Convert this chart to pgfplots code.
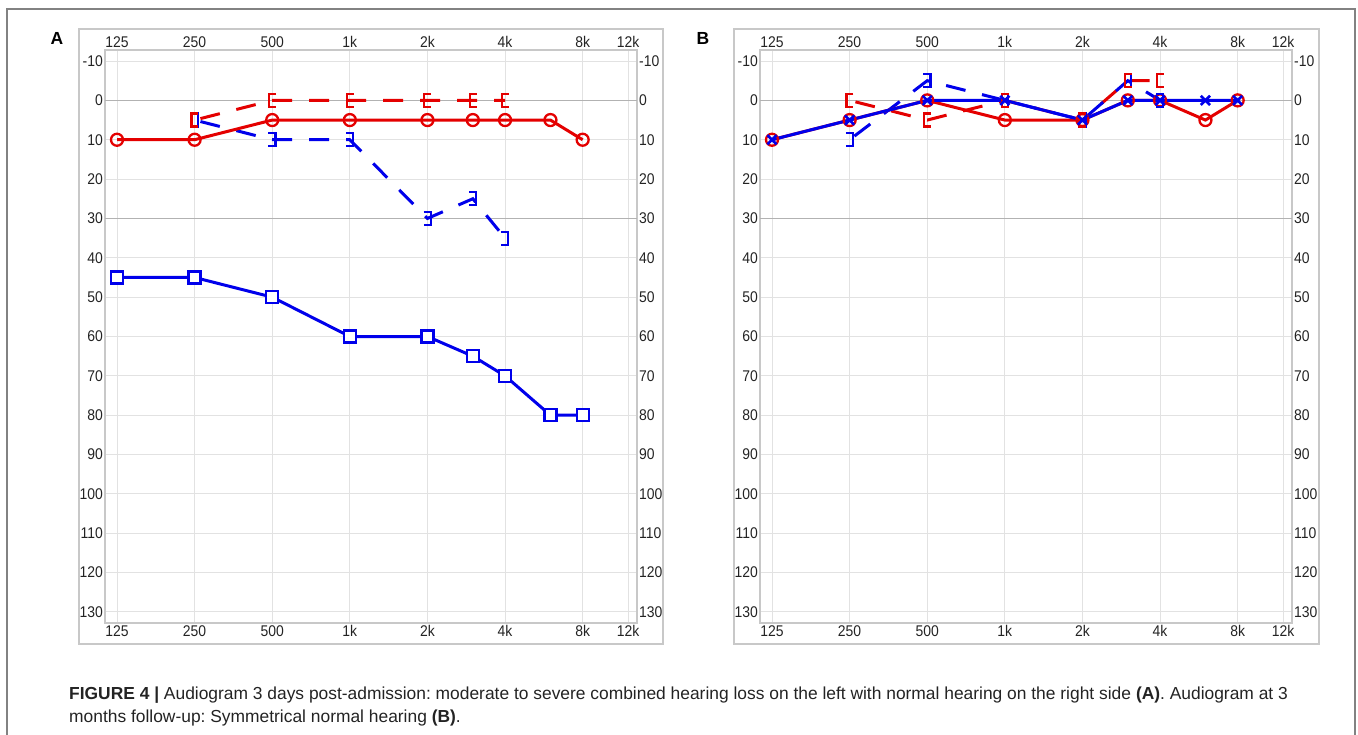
\documentclass[border=0pt]{standalone}
\usepackage{fontspec}
\setmainfont{Liberation Sans}
\newfontfamily\tickfont[FakeStretch=0.9]{Liberation Sans}
\usepackage{pgfplots}
\usepackage{pgfplotstable}
\pgfplotsset{compat=1.18}
\frenchspacing

\definecolor{audred}{RGB}{228,0,0}
\definecolor{audblue}{RGB}{0,0,235}
\definecolor{gridgray}{RGB}{226,226,226}
\definecolor{darkgrid}{RGB}{178,178,178}
\definecolor{boxgray}{RGB}{200,200,200}
\definecolor{framegray}{RGB}{130,130,130}
\definecolor{txtgray}{RGB}{35,35,35}

% bracket marks (bone conduction, masked)
\pgfdeclareplotmark{lbrack}{%
  \pgfpathmoveto{\pgfqpoint{3.8pt}{6.5pt}}%
  \pgfpathlineto{\pgfqpoint{-3.2pt}{6.5pt}}%
  \pgfpathlineto{\pgfqpoint{-3.2pt}{-6.5pt}}%
  \pgfpathlineto{\pgfqpoint{3.8pt}{-6.5pt}}%
  \pgfusepathqstroke}
\pgfdeclareplotmark{rbrack}{%
  \pgfpathmoveto{\pgfqpoint{-3.8pt}{6.5pt}}%
  \pgfpathlineto{\pgfqpoint{3.2pt}{6.5pt}}%
  \pgfpathlineto{\pgfqpoint{3.2pt}{-6.5pt}}%
  \pgfpathlineto{\pgfqpoint{-3.8pt}{-6.5pt}}%
  \pgfusepathqstroke}

% ---------- Panel A data ----------
\pgfplotstableread{
f    db
125  10
250  10
500  5
1000 5
2000 5
3000 5
4000 5
6000 5
8000 10
}\ARac
\pgfplotstableread{
f    db
125  45
250  45
500  50
1000 60
2000 60
3000 65
4000 70
6000 80
8000 80
}\ALac
\pgfplotstableread{
f    db
250  5
500  0
1000 0
2000 0
3000 0
4000 0
}\ARbc
\pgfplotstableread{
f    db
250  5
500  10
1000 10
2000 30
3000 25
4000 35
}\ALbc

% ---------- Panel B data ----------
\pgfplotstableread{
f    db
125  10
250  5
500  0
1000 5
2000 5
3000 0
4000 0
6000 5
8000 0
}\BRac
\pgfplotstableread{
f    db
125  10
250  5
500  0
1000 0
2000 5
3000 0
4000 0
6000 0
8000 0
}\BLac
\pgfplotstableread{
f    db
250  0
500  5
1000 0
2000 5
3000 -5
4000 -5
}\BRbc
\pgfplotstableread{
f    db
250  10
500  -5
1000 0
2000 5
3000 -5
4000 0
}\BLbc

\pgfplotsset{
  audbase/.style={
    scale only axis, width=532pt, height=573pt,
    xmin=112.3, xmax=13000,
    ymin=-12.8, ymax=132.8, y dir=reverse,
    xtick={125,250,500,1000,2000,4000,8000,12000},
    xticklabels={125,250,500,1k,2k,4k,8k,12k},
    ytick={-10,0,10,20,30,40,50,60,70,80,90,100,110,120,130},
    yticklabels={-10,0,10,20,30,40,50,60,70,80,90,100,110,120,130},
    minor xtick={}, minor ytick={},
    major tick length=0pt,
    tick label style={font=\tickfont\fontsize{15.5}{17}\selectfont, text=txtgray},
    xticklabel style={inner sep=2.3pt},
    yticklabel style={inner sep=2pt},
    clip=false,
  },
  audmain/.style={
    audbase,
    axis line style={boxgray, line width=1.3pt},
    grid=major,
    major grid style={gridgray, line width=1pt},
    extra y ticks={0,30},
    extra y tick labels={},
    extra y tick style={grid=major, major grid style={darkgrid, line width=1.3pt}},
    xticklabel pos=lower, yticklabel pos=left,
  },
  audover/.style={
    audbase,
    axis line style={draw=none},
    grid=none,
    xticklabel pos=upper, yticklabel pos=right,
  },
  solidln/.style={line width=3pt, no markers},
  dashln/.style={line width=3pt, no markers, dash pattern=on 20pt off 17pt, dash phase=31pt},
  circ/.style={only marks, mark=o, mark size=6pt, mark options={line width=2.3pt, fill=white, solid}},
  sq/.style={only marks, mark=square*, mark size=6pt, mark options={line width=2.3pt, fill=white, solid}},
  crs/.style={only marks, mark=x, mark size=6.5pt, mark options={line width=2.6pt, solid}},
  lbr/.style={only marks, mark=lbrack, mark options={line width=2.2pt, solid}},
  rbr/.style={only marks, mark=rbrack, mark options={line width=2.2pt, solid}},
}

\begin{document}
\begin{tikzpicture}
\path[use as bounding box] (0pt,0pt) rectangle (1358pt,-734pt);
% outer frame
\draw[framegray, line width=1.5pt] (7pt,-740pt) -- (7pt,-9pt) -- (1355pt,-9pt) -- (1355pt,-740pt);
% panel boxes
\draw[boxgray, line width=1.3pt] (79pt,-29pt) rectangle (663pt,-644pt);
\draw[boxgray, line width=1.3pt] (734pt,-29pt) rectangle (1319pt,-644pt);
% panel letters
\node[font=\fontsize{17.5}{20}\selectfont\bfseries] at (57pt,-38pt) {A};
\node[font=\fontsize{17.5}{20}\selectfont\bfseries] at (703pt,-38pt) {B};

% ---------------- Panel A ----------------
\begin{axis}[xmode=log, log basis x=2, audmain, at={(105pt,-50pt)}, anchor=north west]
\addplot[audred, dashln] table[x=f,y=db] {\ARbc};
\addplot[audblue, dashln] table[x=f,y=db] {\ALbc};
\addplot[audred, solidln] table[x=f,y=db] {\ARac};
\addplot[audblue, solidln] table[x=f,y=db] {\ALac};
\addplot[audred, circ] table[x=f,y=db] {\ARac};
\addplot[audblue, sq] table[x=f,y=db] {\ALac};
\addplot[audblue, rbr] table[x=f,y=db] {\ALbc};
\addplot[audred, lbr] table[x=f,y=db] {\ARbc};
\end{axis}
\begin{axis}[xmode=log, log basis x=2, audover, at={(105pt,-50pt)}, anchor=north west]
\addplot[draw=none] coordinates {(125,0)};
\end{axis}

% ---------------- Panel B ----------------
\begin{axis}[xmode=log, log basis x=2, audmain, at={(760pt,-50pt)}, anchor=north west]
\addplot[audred, dashln] table[x=f,y=db] {\BRbc};
\addplot[audblue, dashln] table[x=f,y=db] {\BLbc};
\addplot[audred, solidln] table[x=f,y=db] {\BRac};
\addplot[audblue, solidln] table[x=f,y=db] {\BLac};
\addplot[audred, circ] table[x=f,y=db] {\BRac};
\addplot[audblue, rbr] table[x=f,y=db] {\BLbc};
\addplot[audred, lbr] table[x=f,y=db] {\BRbc};
\addplot[audblue, crs] table[x=f,y=db] {\BLac};
\end{axis}
\begin{axis}[xmode=log, log basis x=2, audover, at={(760pt,-50pt)}, anchor=north west]
\addplot[draw=none] coordinates {(125,0)};
\end{axis}

% caption
\node[anchor=base west, font=\fontsize{17.4}{20}\selectfont, text=txtgray, inner sep=0pt] at (69pt,-699pt)
  {\textbf{FIGURE 4 |} Audiogram 3 days post-admission: moderate to severe combined hearing loss on the left with normal hearing on the right side \textbf{(A)}. Audiogram at 3};
\node[anchor=base west, font=\fontsize{17.4}{20}\selectfont, text=txtgray, inner sep=0pt] at (69pt,-722pt)
  {months follow-up: Symmetrical normal hearing \textbf{(B)}.};
\end{tikzpicture}
\end{document}
